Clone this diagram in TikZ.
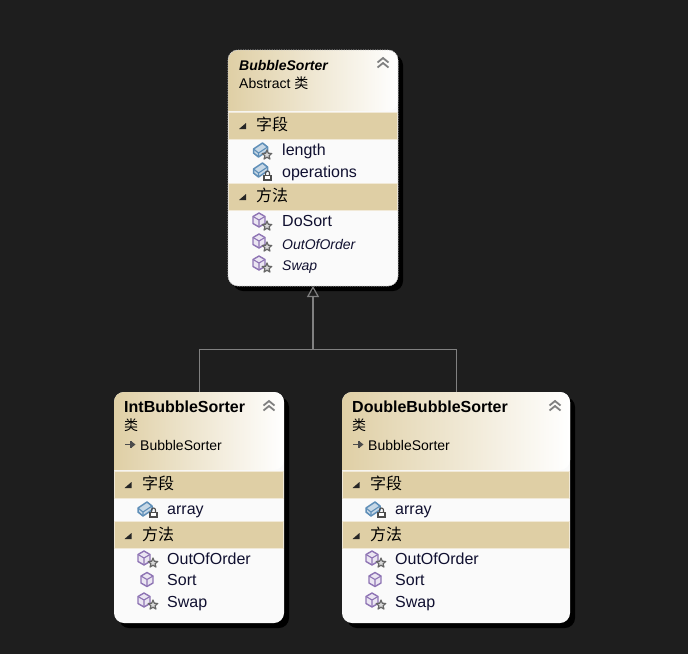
\documentclass[tikz,border=0pt]{standalone}
\usepackage{fontspec}
\setmainfont{Liberation Sans}
\newfontfamily\cjkfont{Noto Sans CJK SC}
\usetikzlibrary{arrows.meta, shadows, calc}
\definecolor{canvas}{HTML}{1E1E1E}
\definecolor{bandtan}{HTML}{DFCFA5}
\definecolor{sheet}{HTML}{FAFAFA}
\definecolor{wire}{HTML}{808080}
\definecolor{fieldblue}{HTML}{5F8FB8}
\definecolor{methodpurple}{HTML}{8E74B4}
\definecolor{inktext}{HTML}{101030}
\tikzset{
  classbox/.style={
    rectangle, rounded corners=10pt, fill=sheet, anchor=north west,
    inner sep=0pt, outer sep=0pt,
    general shadow={shadow xshift=5pt, shadow yshift=-5pt, fill=black}
  },
  picked/.style={draw=white!80!black, line width=0.8pt, dash pattern=on 1.2pt off 1.2pt},
  headfill/.style={left color=bandtan, right color=white},
  band/.style={
    rectangle, fill=bandtan, draw=bandtan!45!white, line width=0.7pt, anchor=north west,
    inner sep=0pt, outer sep=0pt, minimum height=27pt
  },
  bandtext/.style={anchor=west, inner sep=0pt, font=\fontsize{16}{18}\cjkfont\selectfont, text=black},
  member/.style={anchor=base west, inner sep=0pt, font=\fontsize{16}{18}\selectfont, text=inktext},
  memberit/.style={anchor=base west, inner sep=0pt, font=\fontsize{14}{16}\selectfont\itshape, text=inktext},
  subline/.style={anchor=base west, inner sep=0pt, font=\fontsize{14}{16}\selectfont, text=black},
  cjkline/.style={anchor=west, inner sep=0pt, font=\fontsize{14}{16}\cjkfont\selectfont, text=black},
  wireline/.style={draw=wire, line width=1pt},
  pics/cubeicon/.style={code={
    \filldraw[draw=#1, fill=#1!18!white, line width=1.4pt, line join=round]
      (-6,-3.5) -- (0,-7) -- (6,-3.5) -- (6,3.5) -- (0,7) -- (-6,3.5) -- cycle;
    \draw[#1, line width=1.1pt] (-6,-3.5) -- (0,0) -- (6,-3.5) (0,0) -- (0,7);
  }},
  pics/slabicon/.style={code={
    \filldraw[draw=#1, fill=#1!35!white, line width=1.5pt, line join=round]
      (-7,-1) -- (2,-7) -- (7,-3) -- (7,1) -- (-2,7) -- (-7,3) -- cycle;
    \draw[#1, line width=1.1pt] (-7,-1) -- (-2,3) -- (7,-3) (-2,3) -- (-2,7);
  }},
  pics/staricon/.style={code={
    \filldraw[draw=black!60, fill=white!85!black, line width=1.2pt, line join=round]
      (-90:5) -- (-54:2.2) -- (-18:5) -- (18:2.2) -- (54:5)
      -- (90:2.2) -- (126:5) -- (162:2.2) -- (198:5) -- (234:2.2) -- cycle;
  }},
  pics/lockicon/.style={code={
    \draw[black!70, line width=1.1pt] (-2,-1) -- (-2,-3) arc[start angle=180, end angle=360, radius=2] -- (2,-1);
    \filldraw[draw=black!70, fill=white, line width=1.1pt] (-3.5,-0.5) rectangle (3.5,4);
  }},
  pics/chevrons/.style={code={
    \draw[black!50, line width=1.8pt, line join=miter] (-5.5,-0.5) -- (0,-5) -- (5.5,-0.5) (-5.5,4.5) -- (0,0) -- (5.5,4.5);
  }},
  pics/bandmark/.style={code={
    \fill[black!85] (3.5,-3) -- (3.5,3) -- (-3.5,3) -- cycle;
  }},
  pics/inherits/.style={code={
    \draw[black!70, line width=1.2pt] (-5,0) -- (1,0) (1,-3.5) -- (1,3.5);
    \fill[black!70] (1,-3.5) -- (5.5,0) -- (1,3.5) -- cycle;
  }}
}
\begin{document}
\begin{tikzpicture}[x=1pt, y=-1pt]
  \useasboundingbox (0,0) rectangle (688,654);
  \fill[canvas] (0,0) rectangle (688,654);

  % abstract class on top
  \node[classbox, minimum width=170pt, minimum height=236pt] (bubble) at (228,50) {};
  \path[headfill, rounded corners=10pt] (bubble.west |- 0,111) -- (bubble.north west)
    -- (bubble.north east) -- (bubble.east |- 0,111) [sharp corners] -- cycle;
  \node[band, minimum width=169.3pt] (bubblefields) at (228.35,112) {};
  \node[band, minimum width=169.3pt] (bubblemethods) at (228.35,183) {};
  \draw[picked, rounded corners=10pt] (bubble.north west) rectangle (bubble.south east);

  \node[anchor=base west, inner sep=0pt, font=\fontsize{14}{16}\selectfont\bfseries\itshape] (bubbletitle) at (239,70) {BubbleSorter};
  \node[subline] (bubblekind) at (239,88) {Abstract {\cjkfont 类}};
  \pic at (383,63) {chevrons};
  \pic at (242.5,126) {bandmark};
  \node[bandtext] (bubblefieldstext) at (256,124) {字段};
  \pic at (242.5,197) {bandmark};
  \node[bandtext] (bubblemethodstext) at (256,195) {方法};

  \pic at (260.5,150) {slabicon=fieldblue};
  \pic at (267,155) {staricon};
  \node[member] (bubblelength) at (282,155) {length};
  \pic at (260.5,170) {slabicon=fieldblue};
  \pic at (267.5,176) {lockicon};
  \node[member] (bubbleoperations) at (282,177) {operations};

  \pic at (259,220) {cubeicon=methodpurple};
  \pic at (267,226) {staricon};
  \node[member] (bubbledosort) at (282,226) {DoSort};
  \pic at (259,241) {cubeicon=methodpurple};
  \pic at (267,247) {staricon};
  \node[memberit] (bubbleoutoforder) at (282,249) {OutOfOrder};
  \pic at (259,263) {cubeicon=methodpurple};
  \pic at (267,268) {staricon};
  \node[memberit] (bubbleswap) at (282,270) {Swap};

  % the two concrete classes
  \foreach \cname/\x/\w/\title in {intsorter/114/170/IntBubbleSorter, doublesorter/342/228/DoubleBubbleSorter} {
    \node[classbox, minimum width=\w pt, minimum height=231pt] (\cname) at (\x,392) {};
    \path[headfill, rounded corners=10pt] (\cname.west |- 0,470) -- (\cname.north west)
      -- (\cname.north east) -- (\cname.east |- 0,470) [sharp corners] -- cycle;
    \node[band, minimum width=\w pt-0.7pt] (\cname fields) at (\x+0.35,471) {};
    \node[band, minimum width=\w pt-0.7pt] (\cname methods) at (\x+0.35,521) {};

    \node[anchor=base west, inner sep=0pt, font=\fontsize{16}{18}\selectfont\bfseries] (\cname title) at (\x+10,412) {\title};
    \node[cjkline] (\cname kind) at (\x+10,425) {类};
    \pic at (\x+16,444.5) {inherits};
    \node[subline] (\cname base) at (\x+26,450) {BubbleSorter};
    \pic at (\x+\w-15,406) {chevrons};

    \pic at (\x+14,485) {bandmark};
    \node[bandtext] (\cname fieldstext) at (\x+28,483) {字段};
    \pic at (\x+14,536) {bandmark};
    \node[bandtext] (\cname methodstext) at (\x+28,534) {方法};

    \pic at (\x+31,509) {slabicon=fieldblue};
    \pic at (\x+39.5,513) {lockicon};
    \node[member] (\cname array) at (\x+53,514) {array};

    \pic at (\x+30,558) {cubeicon=methodpurple};
    \pic at (\x+39,563) {staricon};
    \node[member] (\cname outoforder) at (\x+53,564) {OutOfOrder};
    \pic at (\x+33,579.5) {cubeicon=methodpurple};
    \node[member] (\cname sort) at (\x+53,585) {Sort};
    \pic at (\x+30,600) {cubeicon=methodpurple};
    \pic at (\x+39,605) {staricon};
    \node[member] (\cname swap) at (\x+53,607) {Swap};
  }

  \coordinate (junction) at (313,349);
  \draw[wireline] (intsorter.north) |- (junction);
  \draw[wireline] (doublesorter.north) |- (junction);
  \draw[wireline, line width=1.2pt, -{Triangle[open, length=11pt, width=12pt]}] (junction) -- (bubble.south);
\end{tikzpicture}
\end{document}
